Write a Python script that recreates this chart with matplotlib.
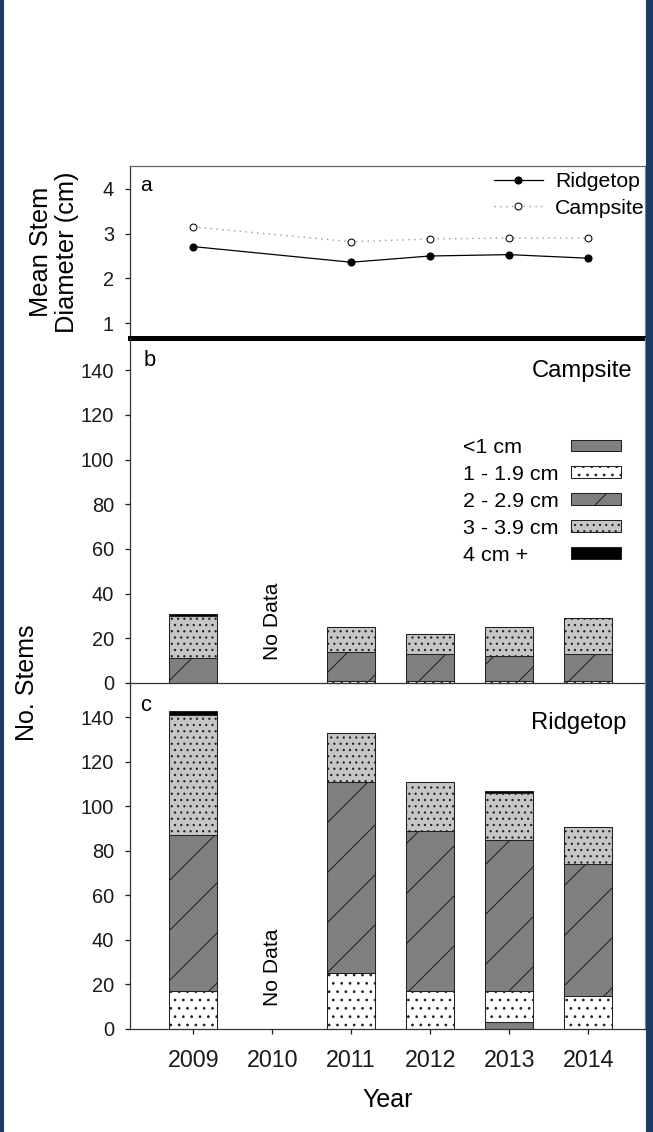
import matplotlib
matplotlib.use('Agg')
import matplotlib.pyplot as plt
from matplotlib.patches import Rectangle
import numpy as np

# ---------------- data ----------------
years = [2009, 2010, 2011, 2012, 2013, 2014]
year_labels = ['2009', '2010', '2011', '2012', '2013', '2014']

line_years = [2009, 2011, 2012, 2013, 2014]
ridgetop_diam = [2.71, 2.36, 2.50, 2.53, 2.45]
campsite_diam = [3.15, 2.82, 2.88, 2.90, 2.90]

bar_years = [2009, 2011, 2012, 2013, 2014]
size_classes = ['<1 cm', '1 - 1.9 cm', '2 - 2.9 cm', '3 - 3.9 cm', '4 cm +']

camp_lt1 = [0, 0, 0, 0, 0]
camp_1_19 = [0, 1, 1, 1, 1]
camp_2_29 = [11, 13, 12, 11, 12]
camp_3_39 = [19, 11, 9, 13, 16]
camp_4p = [1, 0, 0, 0, 0]

ridge_lt1 = [0, 0, 0, 3, 0]
ridge_1_19 = [17, 25, 17, 14, 15]
ridge_2_29 = [70, 86, 72, 68, 59]
ridge_3_39 = [54, 22, 22, 21, 17]
ridge_4p = [2, 0, 0, 1, 0]

diam_ticks = [1, 2, 3, 4]
stem_ticks = [0, 20, 40, 60, 80, 100, 120, 140]

# ---------------- style ----------------
plt.rcParams['font.family'] = ['Liberation Sans', 'DejaVu Sans']
plt.rcParams['hatch.linewidth'] = 0.5

W, H = 653, 1132
DPI = 150
fig = plt.figure(figsize=(W / DPI, H / DPI), dpi=DPI)
fig.patch.set_facecolor('white')


def ax_rect(top, bottom, left=130, right=645):
    return [left / W, 1 - bottom / H, (right - left) / W, (bottom - top) / H]


axa = fig.add_axes(ax_rect(166, 338))
axb = fig.add_axes(ax_rect(338, 683))
axc = fig.add_axes(ax_rect(683, 1029))

XLIM = (2008.2, 2014.72)
spine_col = '#333333'
for ax in (axa, axb, axc):
    ax.patch.set_visible(False)
    ax.set_xlim(*XLIM)
    for s in ax.spines.values():
        s.set_color(spine_col)
        s.set_linewidth(0.6)
    ax.spines['right'].set_color('#888888')
    ax.tick_params(axis='y', direction='out', length=2.2, width=0.6,
                   pad=5.5, labelsize=9.6, colors='#1a1a1a')
    ax.set_xticks(years)

# ---- panel a ----
axa.plot(line_years, ridgetop_diam, color='black', lw=0.6, marker='o',
         ms=3.4, mfc='black', mec='black', mew=0.5, label='Ridgetop', zorder=3)
axa.plot(line_years, campsite_diam, color='#a0a0a0', lw=0.7, ls=(0, (1, 3)),
         marker='o', ms=3.3, mfc='white', mec='black', mew=0.5,
         label='Campsite', zorder=3)
axa.set_ylim(0.665, 4.513)
axa.set_yticks(diam_ticks)
axa.tick_params(axis='x', bottom=False, labelbottom=False)
axa.spines['top'].set_color('#666666')
axa.spines['bottom'].set_color('black')
axa.spines['bottom'].set_linewidth(2.4)
axa.spines['bottom'].set_zorder(5)
axa.text(0.019, 0.944, 'a', transform=axa.transAxes, ha='left', va='top',
         fontsize=10)
axa.legend(loc='upper right', bbox_to_anchor=(1.0, 0.965), frameon=False,
           fontsize=10.2, borderpad=0, borderaxespad=0, labelspacing=0.36,
           handlelength=2.3, handletextpad=0.6)

# ---- bars ----
styles = [
    dict(facecolor='#808080', hatch=None),
    dict(facecolor='white', hatch='...'),
    dict(facecolor='#808080', hatch='/'),
    dict(facecolor='#c6c6c6', hatch='....'),
    dict(facecolor='black', hatch=None),
]


def stacked(ax, series):
    bottom = np.zeros(len(bar_years))
    handles = []
    for vals, st, lab in zip(series, styles, size_classes):
        vals = np.asarray(vals, dtype=float)
        h = ax.bar(bar_years, vals, width=0.6, bottom=bottom,
                   facecolor=st['facecolor'], hatch=st['hatch'],
                   edgecolor='#222222', linewidth=0.5, label=lab, zorder=2)
        handles.append(h)
        bottom = bottom + vals
    return handles


hb = stacked(axb, [camp_lt1, camp_1_19, camp_2_29, camp_3_39, camp_4p])
stacked(axc, [ridge_lt1, ridge_1_19, ridge_2_29, ridge_3_39, ridge_4p])

axb.set_ylim(0, 154.4)
axc.set_ylim(0, 155.5)
for ax in (axb, axc):
    ax.set_yticks(stem_ticks)
    ax.spines['top'].set_visible(False)
    ax.text(2010, 10.5, 'No Data', rotation=90, ha='center', va='bottom',
            fontsize=10.1)

axb.spines['bottom'].set_zorder(5)
axb.tick_params(axis='x', bottom=False, labelbottom=False)
axc.tick_params(axis='x', direction='out', length=2.4, width=0.6, pad=7,
                labelsize=11.2, colors='#1a1a1a')
axc.set_xticklabels(year_labels)

axb.text(0.027, 0.965, 'b', transform=axb.transAxes, ha='left', va='top',
         fontsize=10.5)
axc.text(0.019, 0.965, 'c', transform=axc.transAxes, ha='left', va='top',
         fontsize=10.5)
axb.text(0.975, 0.935, 'Campsite', transform=axb.transAxes, ha='right',
         va='top', fontsize=11.4)
axc.text(0.963, 0.915, 'Ridgetop', transform=axc.transAxes, ha='right',
         va='top', fontsize=11.4)

# legend in panel b: left-aligned label column + swatch column on the right
leg_kw = dict(frameon=False, fontsize=10.3, borderpad=0, borderaxespad=0,
              labelspacing=0.37, handleheight=0.47)
leg_text = axb.legend(hb, size_classes, loc='upper left',
                      bbox_to_anchor=(0.6466, 0.71), handlelength=0,
                      handletextpad=0, **leg_kw)
for h in leg_text.legend_handles:
    h.set_visible(False)
axb.add_artist(leg_text)
axb.legend(hb, [' '] * len(size_classes), loc='upper right',
           bbox_to_anchor=(0.953, 0.71), handlelength=2.3, handletextpad=0.1,
           markerfirst=False, **leg_kw)

axc.set_xlabel('Year', fontsize=12, labelpad=8)

fig.text(27 / W, 1 - 683 / H, 'No. Stems', rotation=90, ha='center',
         va='center', fontsize=12)
fig.text(54 / W, 1 - 252 / H, 'Mean Stem\nDiameter (cm)', rotation=90,
         ha='center', va='center', multialignment='center', fontsize=12.2,
         linespacing=1.1)

# dark frame strips
border = '#1d3b64'
fig.patches.append(Rectangle((0, 0), 3 / W, 1, transform=fig.transFigure,
                             color=border, zorder=10))
fig.patches.append(Rectangle((647 / W, 0), 6 / W, 1, transform=fig.transFigure,
                             color=border, zorder=10))

fig.savefig('out.png', dpi=DPI)
